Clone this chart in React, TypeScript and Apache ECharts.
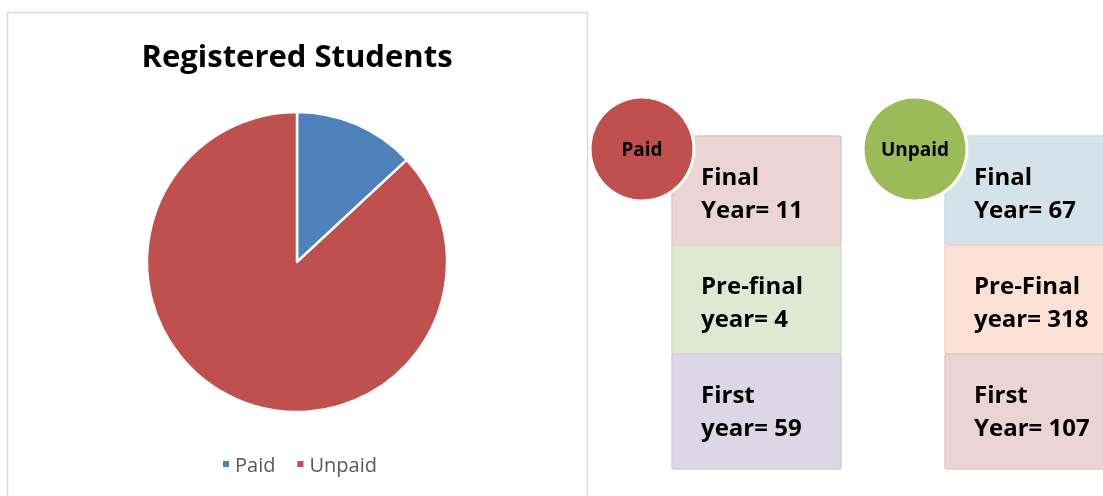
import React, { useEffect, useRef } from "react";
import * as echarts from "echarts";

const statusNames = ["Paid", "Unpaid"];
const paidLabels = ["Final\nYear", "Pre-final\nyear", "First\nyear"];
const paidValues = [11, 4, 59];
const unpaidLabels = ["Final\nYear", "Pre-Final\nyear", "First\nYear"];
const unpaidValues = [67, 318, 107];

const FONT = "'Open Sans', Lato, 'Liberation Sans', sans-serif";

export default function App() {
  const ref = useRef<HTMLDivElement>(null);
  useEffect(() => {
    if (!ref.current) return;
    document.body.style.margin = "0";
    const chart = echarts.init(ref.current, undefined, { renderer: "svg" });
    const sum = (a: number[]) => a.reduce((s, v) => s + v, 0);
    const pieData = [
      { name: statusNames[0], value: sum(paidValues), itemStyle: { color: "#4f81bd" } },
      { name: statusNames[1], value: sum(unpaidValues), itemStyle: { color: "#c0504d" } },
    ];

    const groups = [
      {
        name: statusNames[0],
        labels: paidLabels,
        values: paidValues,
        circleX: 642,
        circleColor: "#c0504d",
        boxX: 672,
        boxW: 169,
        fills: ["#ead4d4", "#e0e8d4", "#dcd7e5"],
        strokes: ["#e2c8c8", "#d5dfc6", "#d2cbdc"],
      },
      {
        name: statusNames[1],
        labels: unpaidLabels,
        values: unpaidValues,
        circleX: 915,
        circleColor: "#9bbb59",
        boxX: 945,
        boxW: 175,
        fills: ["#d4e3ea", "#fbe0d5", "#ead4d4"],
        strokes: ["#c8dae3", "#f3d3c6", "#e2c8c8"],
      },
    ];

    const graphics: any[] = [
      {
        type: "rect",
        z: -10,
        shape: { x: 7.5, y: 12.5, width: 580, height: 500 },
        style: { fill: "#ffffff", stroke: "#d9d9d9", lineWidth: 1.5 },
      },
    ];
    const boxTop = 136;
    const boxH = 109;
    groups.forEach((g) => {
      g.values.forEach((v, i) => {
        const y = boxTop + i * boxH;
        graphics.push({
          type: "rect",
          z: 1,
          shape: { x: g.boxX, y: y, width: g.boxW, height: i === 2 ? 115 : boxH, r: 2 },
          style: { fill: g.fills[i], stroke: g.strokes[i], lineWidth: 1.5 },
        });
        graphics.push({
          type: "text",
          z: 2,
          x: g.boxX + 29,
          y: y + 23,
          style: {
            text: `${g.labels[i]}= ${v}`,
            font: `bold 24px ${FONT}`,
            fill: "#000000",
            lineHeight: 33,
            textVerticalAlign: "top",
          },
        });
      });
      graphics.push({
        type: "circle",
        z: 5,
        shape: { cx: g.circleX, cy: 149, r: 52 },
        style: { fill: g.circleColor, stroke: "#ffffff", lineWidth: 3 },
      });
      graphics.push({
        type: "text",
        z: 6,
        x: g.circleX,
        y: 149,
        style: {
          text: g.name,
          font: `bold 19px ${FONT}`,
          fill: "#000000",
          textAlign: "center",
          textVerticalAlign: "middle",
        },
      });
    });

    chart.setOption({
      animation: false,
      title: {
        text: "Registered Students",
        left: 292,
        top: 34,
        textAlign: "center",
        textStyle: { fontFamily: FONT, fontWeight: "bold", fontSize: 31, color: "#000000" },
      },
      legend: {
        left: 216,
        top: 449,
        icon: "rect",
        itemWidth: 8,
        itemHeight: 8,
        itemGap: 20,
        textStyle: { fontFamily: FONT, fontSize: 20, color: "#595959" },
        data: statusNames,
      },
      series: [
        {
          type: "pie",
          center: [297, 262],
          radius: 150,
          startAngle: 90,
          clockwise: true,
          label: { show: false },
          labelLine: { show: false },
          itemStyle: { borderColor: "#ffffff", borderWidth: 2.5 },
          data: pieData,
        },
      ],
      graphic: graphics,
    });
    return () => chart.dispose();
  }, []);
  return <div ref={ref} style={{ position: "fixed", left: 0, top: 0, width: 1103, height: 496 }} />;
}
